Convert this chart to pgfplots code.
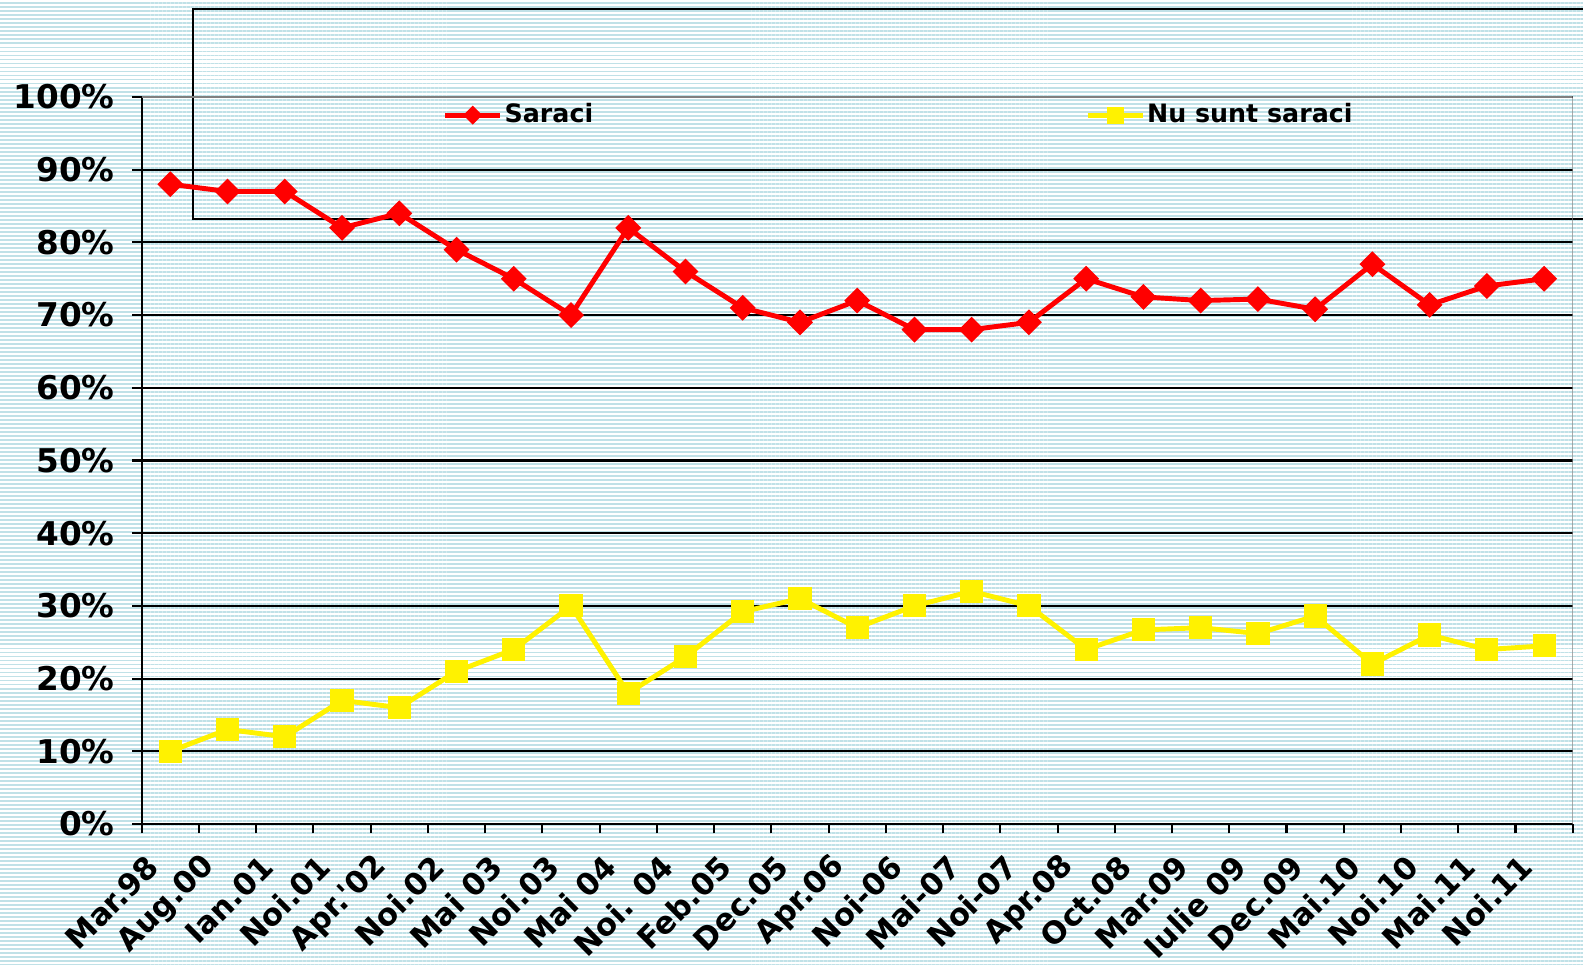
\documentclass[border=0pt]{standalone}
\usepackage{fontspec}
\setmainfont{DejaVu Sans}
\usepackage{pgfplots}
\pgfplotsset{compat=1.18}
\usetikzlibrary{patterns.meta}
\definecolor{stripe}{RGB}{192,225,231}
\definecolor{bordergray}{RGB}{128,128,128}

\pgfplotstableread{
x saraci nusunt
0 88 10
1 87 13
2 87 12
3 82 17
4 84 16
5 79 21
6 75 24
7 70 30
8 82 18
9 76 23
10 71 29.2
11 69 31
12 72 27
13 68 30
14 68 32
15 69 30
16 75 24
17 72.5 26.7
18 72 27
19 72.2 26.2
20 70.8 28.6
21 77 22
22 71.4 26
23 74 24
24 75 24.5
}\datatable

\begin{document}
\begin{tikzpicture}[x=1cm,y=1cm]
\path[use as bounding box] (0,0) rectangle (15.83,9.65);
\fill[white] (0,0) rectangle (15.83,9.65);
\fill[pattern={Lines[angle=0,distance=1.14pt,line width=0.55pt]}, pattern color=stripe] (0,0) rectangle (15.83,9.65);
\draw[black, line width=0.6pt] (1.93,9.56) rectangle (16.3,7.46);
\begin{axis}[
  at={(1.417cm,1.41cm)}, anchor=south west,
  scale only axis, width=14.31cm, height=7.27cm,
  xmin=-0.5, xmax=24.5, ymin=0, ymax=100,
  axis lines*=left,
  axis line style={black, line width=0.6pt},
  xtick={-0.5,0.5,...,24.5},
  x tick label as interval,
  xticklabels={Mar.98,Aug.00,Ian.01,Noi.01,Apr.\textquotesingle 02,Noi.02,Mai 03,Noi.03,Mai 04,Noi. 04,Feb.05,Dec.05,Apr.06,Noi-06,Mai-07,Noi-07,Apr.08,Oct.08,Mar.09,Iulie 09,Dec.09,Mai.10,Noi.10,Mai.11,Noi.11},
  ytick={0,10,...,100},
  yticklabel={\pgfmathprintnumber{\tick}\%},
  /pgf/number format/assume math mode=true,
  tick align=outside, major tick length=2.7pt,
  tick style={black, line width=0.6pt},
  ymajorgrids, grid style={black, line width=0.6pt},
  yticklabel style={font=\bfseries\fontsize{9.3}{11}\selectfont, xshift=-1.5pt},
  xticklabel style={font=\bfseries\fontsize{8.7}{10}\selectfont, yshift=-5.5pt, xshift=-2.5pt, rotate=45, anchor=east},
  legend style={draw=none, fill=none, at={(0.2099,0.975)}, anchor=west,
    inner sep=0pt, font=\bfseries\fontsize{7.2}{8.6}\selectfont,
    nodes={inner sep=0pt},
    /tikz/every odd column/.append style={column sep=0.02cm},
    /tikz/every even column/.append style={column sep=4.92cm}},
  legend columns=2,
  legend image code/.code={\draw[mark repeat=2,mark phase=2,#1,/tikz/every mark/.append style={scale=0.72}] plot coordinates {(0cm,0cm) (0.275cm,0cm) (0.55cm,0cm)};},
]
\addplot[color=red, line width=1.4pt, mark=square*, mark size=2.4pt, mark options={rotate=45, solid, fill=red, line width=0.4pt}] table[x=x,y=saraci] {\datatable};
\addlegendentry{Saraci}
\addplot[color=yellow, line width=1.4pt, mark=square*, mark size=3.1pt, mark options={solid, fill=yellow, line width=0.4pt}] table[x=x,y=nusunt] {\datatable};
\addlegendentry{Nu sunt saraci}
\draw[bordergray, line width=0.6pt] (rel axis cs:0,1) -- (rel axis cs:1,1) -- (rel axis cs:1,0);
\end{axis}
\end{tikzpicture}
\end{document}
